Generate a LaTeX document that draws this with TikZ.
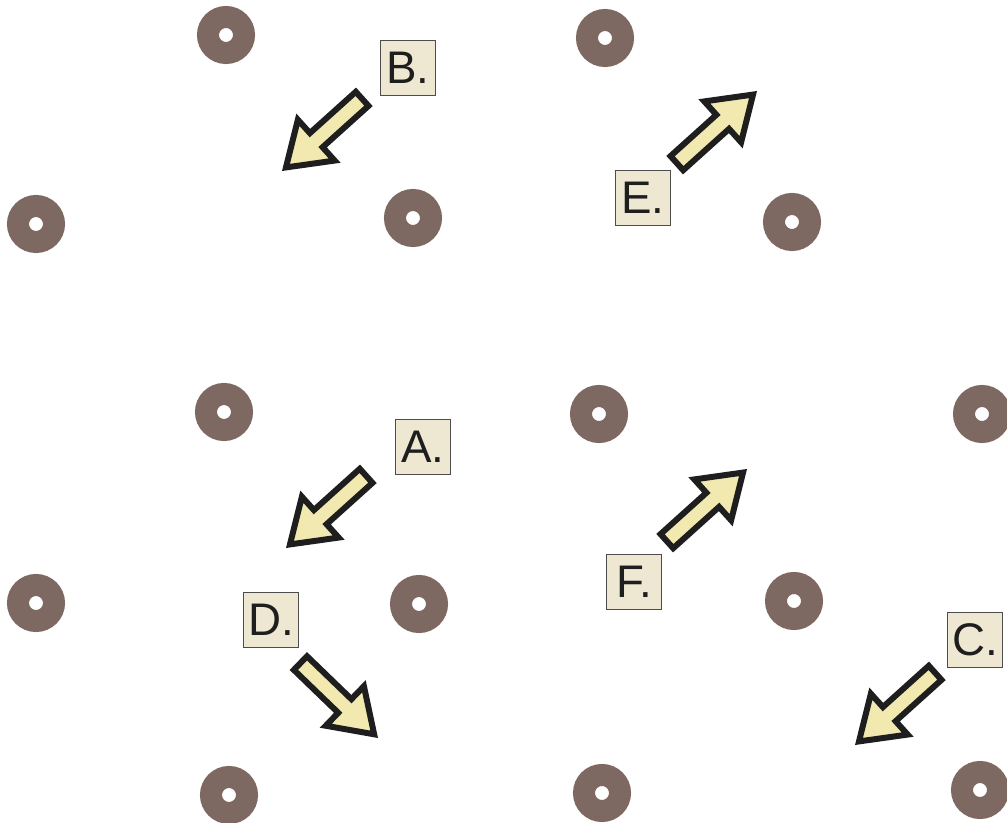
\documentclass[tikz,border=0pt]{standalone}
\usepackage{fontspec}
\setmainfont{Liberation Sans}
\usetikzlibrary{shapes.arrows}
\definecolor{ringbrown}{HTML}{7E6862}
\definecolor{tagfill}{HTML}{EEE8D2}
\definecolor{pushfill}{HTML}{F2E9B0}
\definecolor{pushline}{HTML}{1E1E1E}

\begin{document}
\begin{tikzpicture}[font=\fontsize{26}{30}\selectfont,
				ring/.style={circle,draw=ringbrown,fill=white,line width=0.44cm,minimum size=0.72cm,inner sep=0},
				tag/.style={draw=black!70,fill=tagfill,line width=0.5pt,minimum size=1.1cm,inner sep=0,text=pushline},
				push/.style={single arrow,draw=pushline,fill=pushfill,line width=3.4pt,
					minimum height=2.05cm,inner sep=0.13cm,
					single arrow tip angle=68,single arrow head extend=0.36cm,anchor=tip}]
				\useasboundingbox (0,0) rectangle (20.14,-16.46);
				% rings
				\node[ring] (r1)  at (4.52,-0.70) {};
				\node[ring] (r2)  at (0.72,-4.48) {};
				\node[ring] (r3)  at (8.26,-4.36) {};
				\node[ring] (r4)  at (12.10,-0.76) {};
				\node[ring] (r5)  at (15.84,-4.44) {};
				\node[ring] (r6)  at (4.48,-8.24) {};
				\node[ring] (r7)  at (11.98,-8.28) {};
				\node[ring] (r8)  at (19.64,-8.28) {};
				\node[ring] (r9)  at (0.72,-12.06) {};
				\node[ring] (r10) at (8.38,-12.08) {};
				\node[ring] (r11) at (15.88,-12.02) {};
				\node[ring] (r12) at (4.58,-15.90) {};
				\node[ring] (r13) at (12.04,-15.86) {};
				\node[ring] (r14) at (19.60,-15.80) {};
				% arrows
				\node[push,rotate=222] (pB) at (5.64,-3.42) {};
				\node[push,rotate=42]  (pE) at (15.14,-1.82) {};
				\node[push,rotate=222] (pA) at (5.72,-10.96) {};
				\node[push,rotate=42]  (pF) at (14.94,-9.38) {};
				\node[push,rotate=-44] (pD) at (7.56,-14.76) {};
				\node[push,rotate=222] (pC) at (17.10,-14.90) {};
				% labels
				\node[tag] (tB) at (8.16,-1.36) {B.};
				\node[tag] (tE) at (12.86,-3.96) {E.};
				\node[tag] (tA) at (8.46,-8.94) {A.};
				\node[tag] (tF) at (12.68,-11.64) {F.};
				\node[tag] (tD) at (5.42,-12.40) {D.};
				\node[tag] (tC) at (19.50,-12.80) {C.};
			\end{tikzpicture}
\end{document}
